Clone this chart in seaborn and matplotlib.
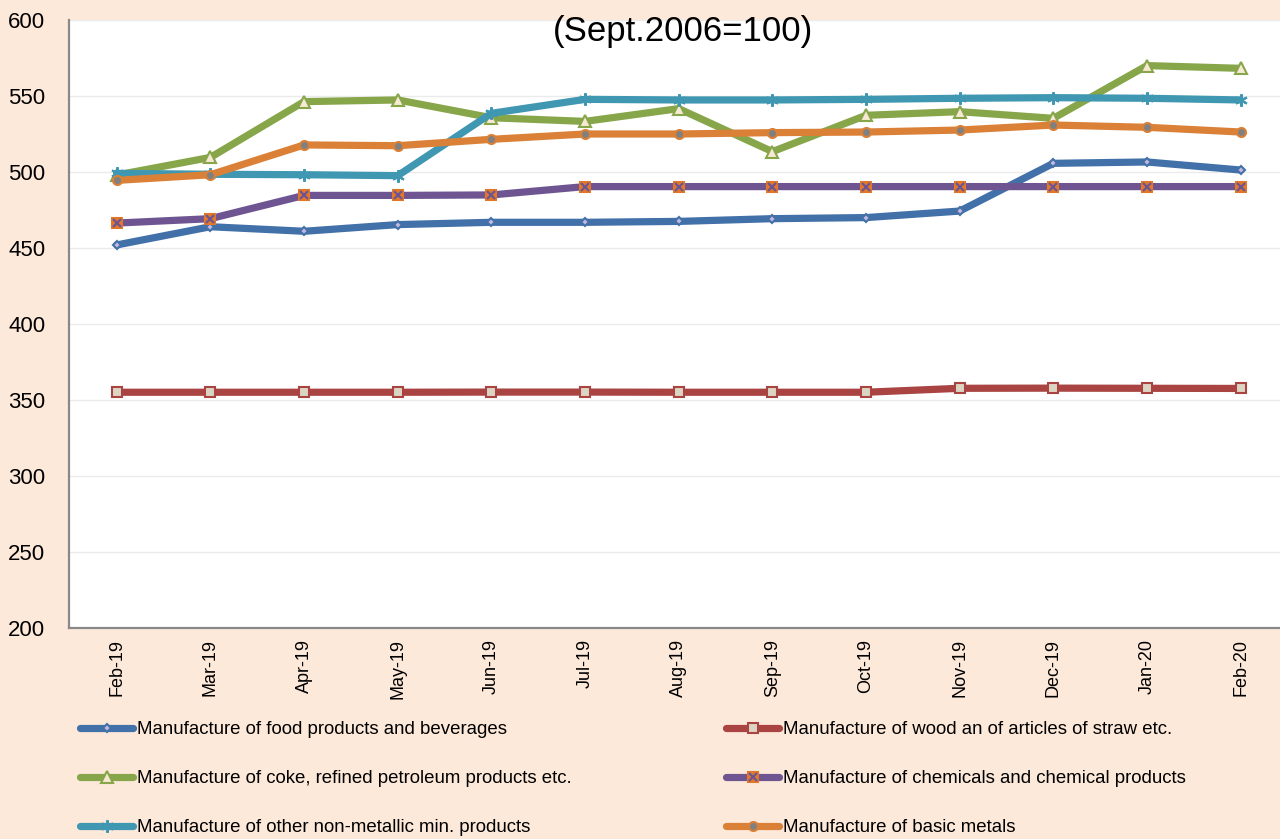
import matplotlib
matplotlib.use("Agg")
import matplotlib.pyplot as plt
import seaborn as sns
from matplotlib.lines import Line2D

months = ["Feb-19", "Mar-19", "Apr-19", "May-19", "Jun-19", "Jul-19", "Aug-19",
          "Sep-19", "Oct-19", "Nov-19", "Dec-19", "Jan-20", "Feb-20"]
food = [452.0, 464.0, 461.0, 465.4, 466.9, 466.9, 467.5, 469.3, 470.0, 474.3, 505.7, 506.6, 501.3]
wood = [355.1, 355.1, 355.1, 355.1, 355.2, 355.2, 355.1, 355.1, 355.1, 357.7, 357.8, 357.7, 357.6]
coke = [498.0, 509.6, 546.3, 547.4, 535.7, 533.3, 541.7, 513.4, 537.3, 539.7, 535.3, 570.0, 568.2]
chem = [466.4, 469.3, 484.6, 484.6, 484.9, 490.4, 490.4, 490.4, 490.4, 490.4, 490.4, 490.4, 490.4]
nonmet = [499.1, 498.5, 498.2, 497.6, 538.6, 547.8, 547.4, 547.4, 547.8, 548.5, 548.9, 548.5, 547.4]
metals = [494.5, 498.2, 517.8, 517.3, 521.5, 525.0, 525.0, 525.9, 526.3, 527.6, 530.9, 529.4, 526.3]

labels = ["Manufacture of food products and beverages",
          "Manufacture of wood an of articles of straw etc.",
          "Manufacture of coke, refined petroleum products etc.",
          "Manufacture of chemicals and chemical products",
          "Manufacture of other non-metallic min. products",
          "Manufacture of basic metals"]

sns.set_style("white")
plt.rcParams['font.family'] = ['Liberation Sans', 'DejaVu Sans']
plt.rcParams['text.color'] = 'black'
plt.rcParams['xtick.color'] = 'black'
plt.rcParams['ytick.color'] = 'black'

bg = "#FDE9DA"
fig = plt.figure(figsize=(12.8, 8.39), dpi=100, facecolor=bg)
ax = fig.add_axes([69/1280, 1-628/839, 1-69/1280, (628-20)/839])
ax.set_facecolor("white")

pos = list(range(len(months)))
lw = 5.2

# (values, line colour, marker, size, face, edge)
series = [
    (food, "#4270A8", "D", 4.5, "#C3B8E0", "#4270A8"),
    (wood, "#A94442", "s", 6.5, "#DDD5C3", "#A94442"),
    (coke, "#87A64A", "^", 9, "#F7E8D4", "#87A64A"),
    (chem, "#6E5592", "s", 7.5, "#E2772A", "#E2772A"),
    (nonmet, "#3F97B1", (6, 2, 0), 9, "#3F97B1", "#3F97B1"),
    (metals, "#DB8137", "o", 6.5, "#808080", "#DB8137"),
]

handles = []
for vals, col, mk, ms, fc, ec in series:
    sns.lineplot(x=pos, y=vals, ax=ax, color=col, lw=lw, marker=mk, markersize=ms,
                 markerfacecolor=fc, markeredgecolor=ec, markeredgewidth=1.5,
                 solid_capstyle="round", solid_joinstyle="round")
    h = Line2D([], [], color=col, lw=lw, marker=mk, markersize=ms, markerfacecolor=fc,
               markeredgecolor=ec, markeredgewidth=1.5, solid_capstyle="round")
    handles.append(h)

# purple cross on top of the orange squares
ax.plot(pos, chem, ls="none", marker="x", markersize=6, color="#6E5592", markeredgewidth=1.6)
handles[3] = (handles[3], Line2D([], [], ls="none", marker="x", markersize=6,
                                 color="#6E5592", markeredgewidth=1.6))

ax.set_xlim(-0.51, 12.42)
ax.set_ylim(200, 600)
ax.set_yticks(range(200, 601, 50))
ax.set_xticks(pos)
ax.set_xticklabels(months, rotation=90, fontsize=13)
ax.tick_params(axis="y", labelsize=16, length=0, pad=17)
ax.tick_params(axis="x", length=0, pad=8)
ax.yaxis.grid(True, color="#EBEBEB", lw=1)
ax.set_axisbelow(True)
for s in ["top", "right"]:
    ax.spines[s].set_visible(False)
for s in ["left", "bottom"]:
    ax.spines[s].set_color("#898989")
    ax.spines[s].set_linewidth(1.6)

fig.text(683/1280, 1-31/839, "(Sept.2006=100)", ha="center", va="center", fontsize=25)

leg_kw = dict(loc="upper left", frameon=False, fontsize=13.4, borderpad=0, borderaxespad=0,
              handlelength=2.85, handletextpad=0.2, labelspacing=1.72)
fig.legend([handles[0], handles[2], handles[4]], [labels[0], labels[2], labels[4]],
           bbox_to_anchor=(80/1280, 1-721/839), **leg_kw)
fig.legend([handles[1], handles[3], handles[5]], [labels[1], labels[3], labels[5]],
           bbox_to_anchor=(726/1280, 1-721/839), **leg_kw)

fig.savefig("out.png", dpi=100, facecolor=bg)
